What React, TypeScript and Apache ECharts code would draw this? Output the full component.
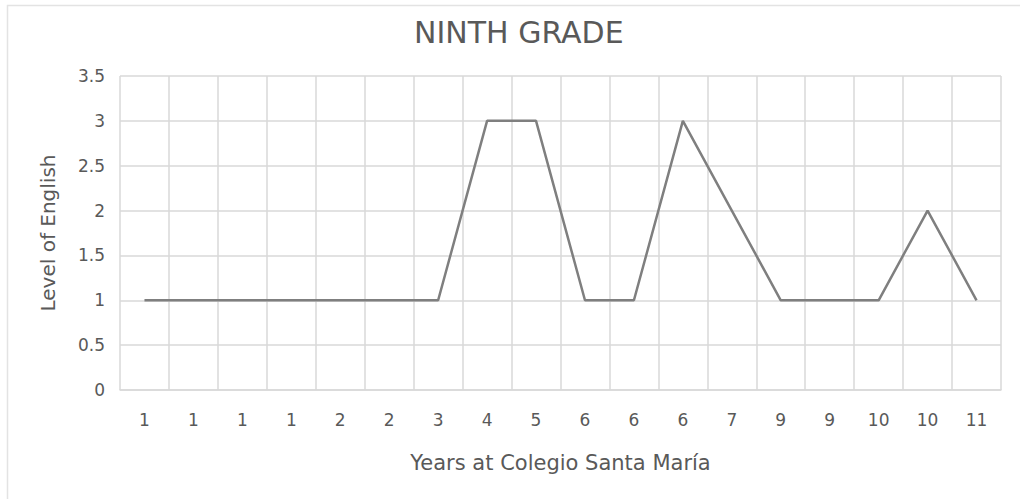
import React, { useEffect, useRef } from "react";
import * as echarts from "echarts";

const categories = ["1", "1", "1", "1", "2", "2", "3", "4", "5", "6", "6", "6", "7", "9", "9", "10", "10", "11"];
const levels = [1, 1, 1, 1, 1, 1, 1, 3, 3, 1, 1, 3, 2, 1, 1, 1, 2, 1];
const titleText = "NINTH GRADE";
const xName = "Years at Colegio Santa María";
const yName = "Level of English";

const FONT = "'DejaVu Sans', sans-serif";
const TXT = "#595959";
const GRID = "#d9d9d9";

export default function App() {
  const ref = useRef<HTMLDivElement>(null);
  useEffect(() => {
    if (!ref.current) return;
    const chart = echarts.init(ref.current, undefined, { renderer: "svg" });
    chart.setOption({
      animation: false,
      backgroundColor: "#ffffff",
      textStyle: { fontFamily: FONT },
      title: {
        text: titleText,
        left: 409,
        top: 12,
        textStyle: { fontFamily: FONT, fontSize: 30, fontWeight: "normal", color: TXT },
      },
      graphic: [
        {
          type: "rect",
          shape: { x: 7.5, y: 5.5, width: 1030, height: 510 },
          style: { fill: "none", stroke: "#e3e3e3", lineWidth: 1.5 },
          silent: true,
        },
      ],
      grid: { left: 120, right: 19, top: 76, bottom: 109 },
      xAxis: {
        type: "category",
        data: categories,
        boundaryGap: true,
        name: xName,
        nameLocation: "middle",
        nameGap: 62,
        nameTextStyle: { fontFamily: FONT, fontSize: 21, color: TXT },
        axisLine: { show: true, lineStyle: { color: GRID, width: 1.5 } },
        axisTick: { show: false },
        axisLabel: { interval: 0, margin: 21, fontFamily: FONT, fontSize: 17, color: TXT },
        splitLine: { show: true, interval: 0, lineStyle: { color: GRID, width: 1.5 } },
      },
      yAxis: {
        type: "value",
        min: 0,
        max: 3.5,
        interval: 0.5,
        name: yName,
        nameLocation: "middle",
        nameGap: 62,
        nameRotate: 90,
        nameTextStyle: { fontFamily: FONT, fontSize: 20, color: TXT },
        axisLine: { show: false },
        axisTick: { show: false },
        axisLabel: { margin: 15, fontFamily: FONT, fontSize: 17, color: TXT },
        splitLine: { show: true, lineStyle: { color: GRID, width: 1.5 } },
      },
      series: [
        {
          type: "line",
          data: levels,
          symbol: "none",
          lineStyle: { color: "#7f7f7f", width: 2.5 },
        },
      ],
    });
    return () => chart.dispose();
  }, []);
  return (
    <div
      ref={ref}
      style={{ position: "absolute", left: 0, top: 0, width: 1020, height: 499 }}
    />
  );
}
